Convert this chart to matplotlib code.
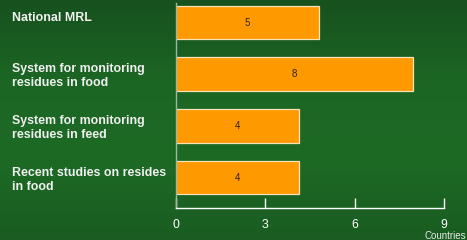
"""
Monitoring of residues: number of countries per activity
"""

import numpy as np
import matplotlib.pyplot as plt
from matplotlib.colors import LinearSegmentedColormap
from matplotlib.transforms import blended_transform_factory

categories = ["National MRL",
              "System for monitoring\nresidues in food",
              "System for monitoring\nresidues in feed",
              "Recent studies on resides\nin food"]
bar_lengths = [4.8, 7.95, 4.15, 4.15]
bar_labels = ["5", "8", "4", "4"]
xticks = [0, 3, 6, 9]

plt.rcParams["font.family"] = ["Liberation Sans", "DejaVu Sans"]

fig = plt.figure(figsize=(4.67, 2.40), dpi=100)

# fondo degradado verde
bg = fig.add_axes([0, 0, 1, 1], zorder=-1)
cmap = LinearSegmentedColormap.from_list(
    "bg", ["#17511e", "#1c6624", "#1d6a25", "#1a5c21"])
bg.imshow(np.linspace(0, 1, 256).reshape(-1, 1), aspect="auto",
          cmap=cmap, extent=[0, 1, 0, 1])
bg.axis("off")

ax = fig.add_axes([0.376, 0.133, 0.575, 0.855])
ax.patch.set_alpha(0)
y = np.arange(len(categories))
bars = ax.barh(y, bar_lengths, height=0.65, color="#ff9900",
               edgecolor="#f6e2b8", linewidth=0.9)
for b, lab in zip(bars, bar_labels):
    ax.text(b.get_width() / 2, b.get_y() + b.get_height() / 2, lab,
            ha="center", va="center", fontsize=7, color="#2e2208")

ax.set_xlim(0, 9)
ax.set_ylim(3.59, -0.38)
ax.set_xticks(xticks)
ax.set_yticks([])
ax.tick_params(axis="x", direction="in", length=7, width=1,
               colors="white", labelsize=8.8, pad=8)
for side in ["top", "right"]:
    ax.spines[side].set_visible(False)
ax.spines["bottom"].set_color("white")
ax.spines["bottom"].set_linewidth(1)
ax.spines["left"].set_color("#9fb59f")
ax.spines["left"].set_linewidth(1)

trans = blended_transform_factory(fig.transFigure, ax.transData)
for i, cat in enumerate(categories):
    ax.text(0.026, i - 0.21, cat, transform=trans, ha="left", va="top",
            fontsize=8.9, fontweight="bold", color="#f0f0f0",
            linespacing=1.2)

fig.text(0.999, 0.017, "Countries", ha="right", va="center",
         fontsize=7, color="#e8e8e8")

plt.savefig("out.png", dpi=100)
